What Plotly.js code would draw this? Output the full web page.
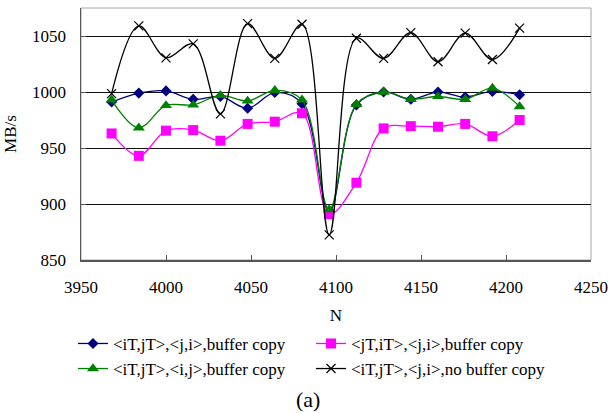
<!DOCTYPE html>
<html>
<head>
<meta charset="utf-8">
<script src="https://cdn.plot.ly/plotly-3.0.1.min.js"></script>
<style>
  html, body { margin: 0; padding: 0; background: #ffffff; }
  #chart { width: 608px; height: 413px; }
</style>
</head>
<body>
<div id="chart"></div>
<script>
// N values (x)
var nValues = [3968, 3984, 4000, 4016, 4032, 4048, 4064, 4080, 4096, 4112, 4128, 4144, 4160, 4176, 4192, 4208];

// MB/s series
var seriesBlue    = [991, 999, 1001, 993.5, 996, 985.5, 999.5, 989.5, 893, 988.5, 1000, 993.5, 1000, 995.5, 1000.5, 997.5];
var seriesMagenta = [963, 943, 965.5, 966, 956.5, 971.5, 973.5, 981, 891, 919, 967.5, 969.5, 969, 971.5, 960.5, 975];
var seriesGreen   = [993, 968, 988, 988.5, 997, 992, 1001.5, 993, 895, 989, 1000, 993.5, 996, 993.5, 1003.5, 987];
var seriesBlack   = [998.5, 1059, 1030.5, 1043, 980.5, 1061, 1030, 1060.5, 872.5, 1048, 1030, 1053, 1027, 1052.5, 1029, 1057];

var seriesNames = [
  '&lt;iT,jT&gt;,&lt;j,i&gt;,buffer copy',
  '&lt;jT,iT&gt;,&lt;j,i&gt;,buffer copy',
  '&lt;iT,jT&gt;,&lt;i,j&gt;,buffer copy',
  '&lt;iT,jT&gt;,&lt;j,i&gt;,no buffer copy'
];

var yTickVals = [850, 900, 950, 1000, 1050];
var xTickVals = [3950, 4000, 4050, 4100, 4150, 4200, 4250];

var FONT = "'Liberation Serif', 'Times New Roman', serif";
var FS = 17;

var traces = [
  {
    x: nValues, y: seriesBlue, name: seriesNames[0], type: 'scatter', mode: 'lines+markers',
    line: { color: '#000080', width: 1.3, shape: 'spline' },
    marker: { symbol: 'diamond', size: 8.5, color: '#000080' },
    legend: 'legend', showlegend: true
  },
  {
    x: nValues, y: seriesMagenta, name: seriesNames[1], type: 'scatter', mode: 'lines+markers',
    line: { color: '#FF00FF', width: 1.3, shape: 'spline' },
    marker: { symbol: 'square', size: 10, color: '#FF00FF' },
    legend: 'legend2', showlegend: true
  },
  {
    x: nValues, y: seriesGreen, name: seriesNames[2], type: 'scatter', mode: 'lines+markers',
    line: { color: '#008000', width: 1.3, shape: 'spline' },
    marker: { symbol: 'triangle-up', size: 10.5, color: '#008000' },
    legend: 'legend3', showlegend: true
  },
  {
    x: nValues, y: seriesBlack, name: seriesNames[3], type: 'scatter', mode: 'lines+markers',
    line: { color: '#000000', width: 1.3, shape: 'spline' },
    marker: { symbol: 'x-thin-open', size: 9, color: '#000000', line: { color: '#000000', width: 1.2 } },
    legend: 'legend4', showlegend: true
  }
];

function legendAt(x, y) {
  return {
    x: x, y: y, xanchor: 'left', yanchor: 'middle',
    orientation: 'h', bgcolor: 'rgba(0,0,0,0)', borderwidth: 0,
    font: { family: FONT, size: FS, color: '#000000' }
  };
}

var layout = {
  width: 608, height: 413,
  showlegend: true,
  margin: { l: 81, r: 17, t: 8, b: 153 },
  paper_bgcolor: '#ffffff', plot_bgcolor: '#ffffff',
  font: { family: FONT, size: FS, color: '#000000' },
  xaxis: {
    range: [3950, 4250], tickvals: xTickVals, ticktext: xTickVals.map(String),
    ticks: 'inside', ticklen: 5, tickcolor: '#555555', tickwidth: 1,
    showline: true, linecolor: '#555555', linewidth: 1.5,
    showgrid: false, zeroline: false,
    tickfont: { family: FONT, size: FS, color: '#000000' },
    ticklabelstandoff: 11,
    title: { text: 'N', font: { family: FONT, size: FS, color: '#000000' }, standoff: 13 }
  },
  yaxis: {
    range: [850, 1075], tickvals: yTickVals, ticktext: yTickVals.map(String),
    ticks: 'inside', ticklen: 5, tickcolor: '#555555', tickwidth: 1,
    showline: true, linecolor: '#555555', linewidth: 1.5,
    showgrid: true, gridcolor: '#111111', gridwidth: 1,
    zeroline: false,
    tickfont: { family: FONT, size: FS, color: '#000000' },
    ticklabelstandoff: 10,
    title: { text: 'MB/s', font: { family: FONT, size: FS, color: '#000000' }, standoff: 11 }
  },
  shapes: [
    { type: 'rect', xref: 'paper', yref: 'paper', x0: 0, x1: 1, y0: 0, y1: 1,
      line: { color: '#a6a6a6', width: 1 }, layer: 'below' }
  ],
  legend:  legendAt(-0.0157, -0.333),
  legend2: legendAt(0.451, -0.333),
  legend3: legendAt(-0.0157, -0.4325),
  legend4: legendAt(0.451, -0.4325),
  annotations: [
    { text: '(a)', xref: 'paper', yref: 'paper', x: 0.445, y: -0.5516,
      xanchor: 'center', yanchor: 'middle', showarrow: false,
      font: { family: FONT, size: 22, color: '#000000' } }
  ]
};

Plotly.newPlot('chart', traces, layout, { staticPlot: true, displayModeBar: false });
</script>
</body>
</html>
